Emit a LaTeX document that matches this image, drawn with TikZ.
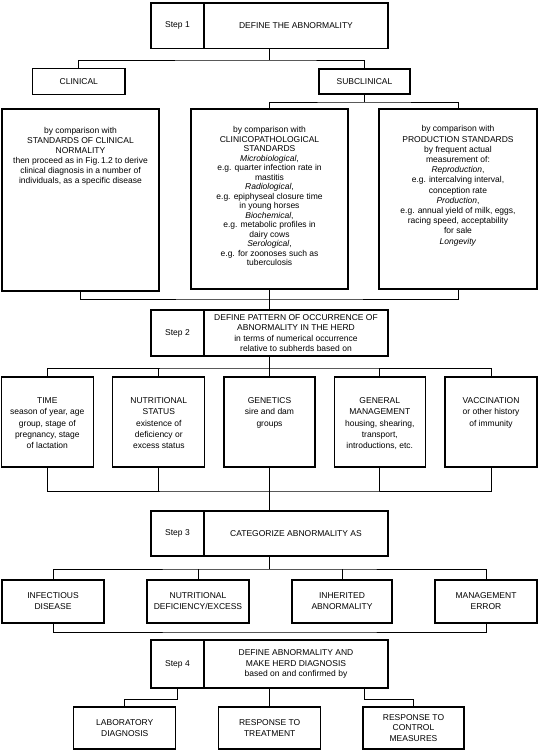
\documentclass[tikz,border=0pt]{standalone}
\usepackage{fontspec}
\setmainfont{Liberation Sans}
\newcommand\fsz[1]{\fontsize{8.5}{#1}\selectfont}
\begin{document}
\begin{tikzpicture}[x=1pt,y=-1pt,
  box/.style={draw,line width=1.1pt,inner sep=0pt,align=center,font=\fsz{10.5}},
  conn/.style={line width=0.7pt},
  txt/.style={inner sep=0pt,align=center}]
\useasboundingbox (0,0) rectangle (538,750);

% ---- Step 1
\node[box,minimum width=53,minimum height=45.5] (s1a) at (177.5,25.75) {Step 1};
\node[box,minimum width=184,minimum height=45.5] (s1b) at (296,25.75) {DEFINE THE ABNORMALITY};
\node[box,minimum width=92.4,minimum height=25.8] (cl) at (78.8,81.5) {CLINICAL};
\node[box,minimum width=91,minimum height=25] (sc) at (364.5,81.5) {SUBCLINICAL};
\coordinate (j1) at (269.5,60);
\draw[conn] (s1b.south -| j1) -- (j1);
\draw[conn] (cl.north) |- (j1) -| (sc.north);

% ---- standards boxes
\node[box,minimum width=157,minimum height=182] (cn) at (80.5,200) {};
\node[box,minimum width=157,minimum height=180] (cp) at (269.5,199) {};
\node[box,minimum width=158,minimum height=180] (pr) at (458,199) {};
\node[txt,anchor=north,yshift=-19pt,font=\fsz{10}] (cnt) at (cn.north) {by comparison with\\ STANDARDS OF CLINICAL\\ NORMALITY\\ then proceed as in Fig.\,1.2 to derive\\ clinical diagnosis in a number of\\ individuals, as a specific disease};
\node[txt,anchor=north,yshift=-18pt,font=\fsz{9.5}] (cpt) at (cp.north) {by comparison with\\ CLINICOPATHOLOGICAL\\ STANDARDS\\ \textit{Microbiological},\\ e.g. quarter infection rate in\\ mastitis\\ \textit{Radiological},\\ e.g. epiphyseal closure time\\ in young horses\\ \textit{Biochemical},\\ e.g. metabolic profiles in\\ dairy cows\\ \textit{Serological},\\ e.g. for zoonoses such as\\ tuberculosis};
\node[txt,anchor=north,yshift=-17pt,font=\fsz{10.2}] (prt) at (pr.north) {by comparison with\\ PRODUCTION STANDARDS\\ by frequent actual\\ measurement of:\\ \textit{Reproduction},\\ e.g. intercalving interval,\\ conception rate\\ \textit{Production},\\ e.g. annual yield of milk, eggs,\\ racing speed, acceptability\\ for sale\\ \textit{Longevity}};
\coordinate (j2) at (364.5,102);
\draw[conn] (sc.south) -- (j2);
\draw[conn] (cp.north) |- (j2) -| (pr.north);

% ---- Step 2
\node[box,minimum width=53,minimum height=46] (s2a) at (177.5,333) {Step 2};
\node[box,minimum width=184,minimum height=46] (s2b) at (296,333) {DEFINE PATTERN OF OCCURRENCE OF\\ ABNORMALITY IN THE HERD\\ in terms of numerical occurrence\\ relative to subherds based on};
\coordinate (j3) at (269.5,299);
\draw[conn] (cn.south) |- (j3) -| (pr.south);
\draw[conn] (cp.south) -- (cp.south |- s2b.north);

% ---- factor boxes
\node[box,minimum width=91.5,minimum height=90] (t1) at (47.3,422) {};
\node[box,minimum width=92,minimum height=90] (t2) at (158.8,422) {};
\node[box,minimum width=91,minimum height=90] (t3) at (269.5,422) {};
\node[box,minimum width=91.5,minimum height=90] (t4) at (379.8,422) {};
\node[box,minimum width=92,minimum height=90] (t5) at (491,422) {};
\node[txt,anchor=north,yshift=-21pt,font=\fsz{11.3}] (t1t) at (t1.north) {TIME\\ season of year, age\\ group, stage of\\ pregnancy, stage\\ of lactation};
\node[txt,anchor=north,yshift=-21pt,font=\fsz{11.3}] (t2t) at (t2.north) {NUTRITIONAL\\ STATUS\\ existence of\\ deficiency or\\ excess status};
\node[txt,anchor=north,yshift=-21pt,font=\fsz{11.3}] (t3t) at (t3.north) {GENETICS\\ sire and dam\\ groups};
\node[txt,anchor=north,yshift=-21pt,font=\fsz{11.3}] (t4t) at (t4.north) {GENERAL\\ MANAGEMENT\\ housing, shearing,\\ transport,\\ introductions, etc.};
\node[txt,anchor=north,yshift=-21pt,font=\fsz{11.3}] (t5t) at (t5.north) {VACCINATION\\ or other history\\ of immunity};
\coordinate (j4) at (269.5,368);
\draw[conn] (s2b.south -| j4) -- (t3.north);
\draw[conn] (t1.north) |- (j4) -| (t5.north);
\draw[conn] (t2.north) -- (t2.north |- j4);
\draw[conn] (t4.north) -- (t4.north |- j4);

% ---- Step 3
\node[box,minimum width=53,minimum height=45] (s3a) at (177.5,533.5) {Step 3};
\node[box,minimum width=184,minimum height=45] (s3b) at (296,533.5) {CATEGORIZE ABNORMALITY AS};
\coordinate (j5) at (269.5,491);
\draw[conn] (t1.south) |- (j5) -| (t5.south);
\draw[conn] (t2.south) -- (t2.south |- j5);
\draw[conn] (t4.south) -- (t4.south |- j5);
\draw[conn] (t3.south) -- (t3.south |- s3b.north);

% ---- categories
\node[box,minimum width=102,minimum height=43,font=\fsz{11}] (c1) at (53,601.5) {INFECTIOUS\\ DISEASE};
\node[box,minimum width=102,minimum height=43,font=\fsz{11}] (c2) at (198,601.5) {NUTRITIONAL\\ DEFICIENCY/EXCESS};
\node[box,minimum width=100,minimum height=43,font=\fsz{11}] (c3) at (342,601.5) {INHERITED\\ ABNORMALITY};
\node[box,minimum width=102,minimum height=43,font=\fsz{11}] (c4) at (486,601.5) {MANAGEMENT\\ ERROR};
\coordinate (j6) at (269.5,569);
\draw[conn] (s3b.south -| j6) -- (j6);
\draw[conn] (c1.north) |- (j6) -| (c4.north);
\draw[conn] (c2.north) -- (c2.north |- j6);
\draw[conn] (c3.north) -- (c3.north |- j6);
\coordinate (j7) at (269.5,632);
\draw[conn] (c1.south) |- (j7) -| (c4.south);

% ---- Step 4
\node[box,minimum width=53,minimum height=48] (s4a) at (177.5,664) {Step 4};
\node[box,minimum width=184,minimum height=48] (s4b) at (296,664) {DEFINE ABNORMALITY AND\\ MAKE HERD DIAGNOSIS\\ based on and confirmed by};

% ---- confirmation boxes
\node[box,minimum width=102,minimum height=42] (b1) at (124.8,728) {LABORATORY\\ DIAGNOSIS};
\node[box,minimum width=102,minimum height=42] (b2) at (269.7,728) {RESPONSE TO\\ TREATMENT};
\node[box,minimum width=101,minimum height=42] (b3) at (413.5,728) {RESPONSE TO\\ CONTROL\\ MEASURES};
\coordinate (k1) at (177.5,699);
\coordinate (k3) at (364,699);
\draw[conn] (s4a.south) -- (k1) -| (b1.north);
\draw[conn] (s4b.south -| b2.north) -- (b2.north);
\draw[conn] (s4b.south -| k3) -- (k3) -| (b3.north);
\end{tikzpicture}
\end{document}
